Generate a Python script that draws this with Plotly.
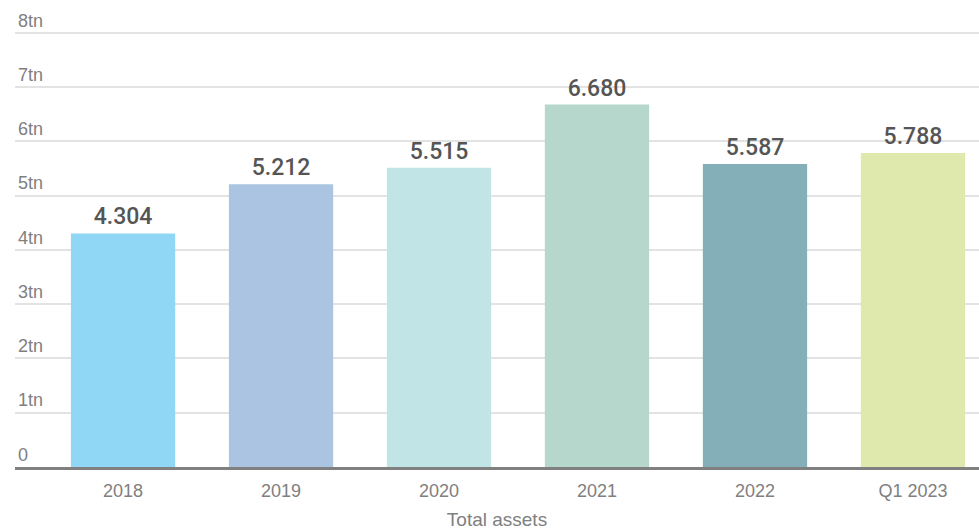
import plotly.graph_objects as go

categories = ["2018", "2019", "2020", "2021", "2022", "Q1 2023"]
values = [4.304, 5.212, 5.515, 6.680, 5.587, 5.788]
labels = ["4.304", "5.212", "5.515", "6.680", "5.587", "5.788"]
colors = ["#8fd7f5", "#aac4e1", "#c1e4e6", "#b6d8cc", "#84afb8", "#dfe9ae"]
y_ticks = [0, 1, 2, 3, 4, 5, 6, 7, 8]
y_tick_text = ["0", "1tn", "2tn", "3tn", "4tn", "5tn", "6tn", "7tn", "8tn"]

axis_font = "Liberation Sans"

fig = go.Figure(go.Bar(
    x=categories, y=values, marker=dict(color=colors, line=dict(width=0)),
    width=0.66, text=labels, textposition="outside", cliponaxis=False,
    textfont=dict(family="Roboto", size=23, color="#555555", weight=500),
))

fig.update_layout(
    width=979, height=532, margin=dict(l=15, r=0, t=8, b=65),
    paper_bgcolor="white", plot_bgcolor="white", showlegend=False,
    font=dict(family=axis_font, color="#808080"),
    xaxis=dict(type="category", range=[-0.684, 5.418], showgrid=False,
               showline=True, linecolor="#808080", linewidth=3,
               tickfont=dict(family=axis_font, size=18, color="#808080"), ticks="",
               ticklabelstandoff=5,
               title=dict(text="Total assets", font=dict(family=axis_font, size=19, color="#808080"), standoff=14)),
    yaxis=dict(range=[0, 8.46], tickvals=y_ticks, ticktext=y_tick_text,
               ticklabelposition="inside top", gridcolor="#e3e3e3", gridwidth=2,
               zeroline=False, showline=False, ticks="",
               tickfont=dict(family=axis_font, size=18, color="#808080")),
)

fig.write_html("out.html")
